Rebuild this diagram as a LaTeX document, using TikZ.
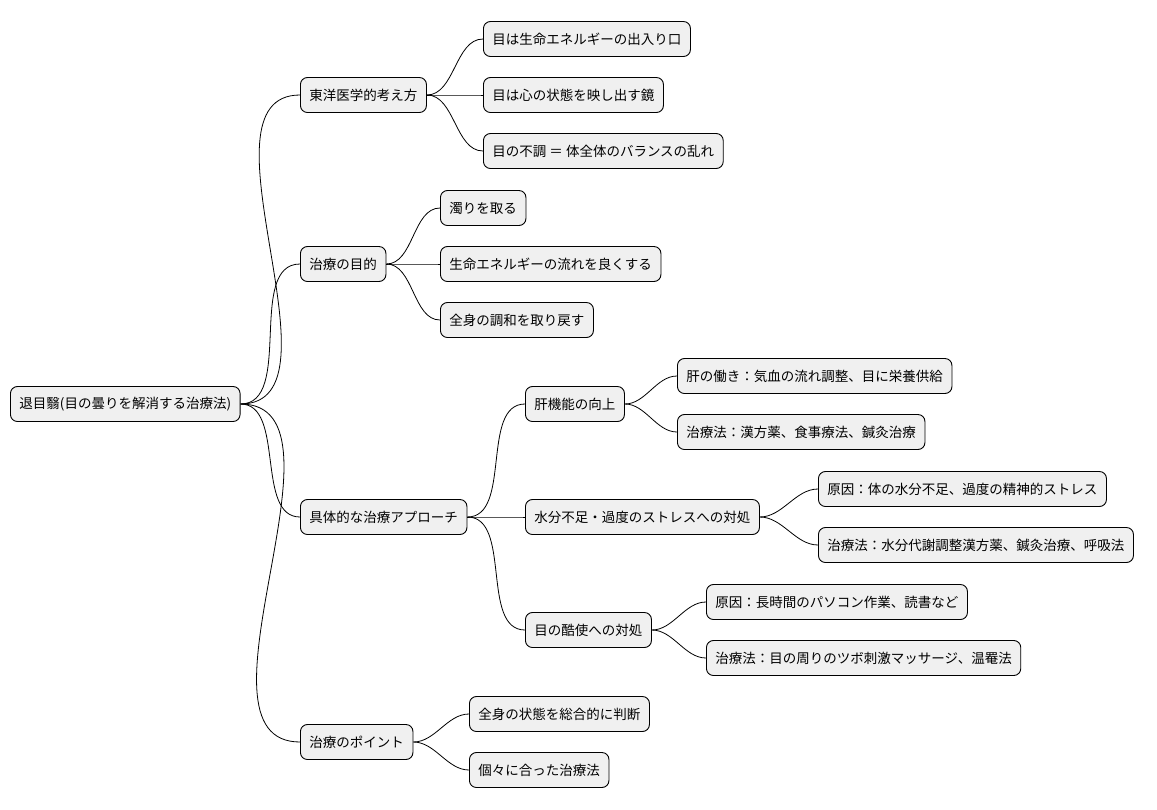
\documentclass[tikz,border=0pt]{standalone}
\usepackage{fontspec}
\setmainfont{Noto Sans CJK JP}
\usepackage{tikz}
\tikzset{
  topic/.style={draw=black, fill=black!6, rounded corners=7pt, line width=0.9pt,
    anchor=west, minimum height=35pt, inner xsep=9pt, inner ysep=0pt,
    font=\fontsize{13.5}{15}\selectfont},
  branch/.style={line width=0.8pt, out=0, in=180, looseness=0.9}
}
\begin{document}
\begin{tikzpicture}[x=1pt, y=-1pt]
    \useasboundingbox (0,0) rectangle (1157,809);
    % root
    \node[topic] (root) at (10,404) {退目翳(目の曇りを解消する治療法)};
    % first level
    \node[topic] (east) at (300,95) {東洋医学的考え方};
    \node[topic] (goal) at (300,264) {治療の目的};
    \node[topic] (appr) at (300,517) {具体的な治療アプローチ};
    \node[topic] (pts) at (300,742) {治療のポイント};
    % east
    \node[topic] (east_a) at (483,39) {目は生命エネルギーの出入り口};
    \node[topic] (east_b) at (483,95) {目は心の状態を映し出す鏡};
    \node[topic] (east_c) at (483,151) {目の不調 ＝ 体全体のバランスの乱れ};
    % goal
    \node[topic] (goal_a) at (440,208) {濁りを取る};
    \node[topic] (goal_b) at (440,264) {生命エネルギーの流れを良くする};
    \node[topic] (goal_c) at (440,320) {全身の調和を取り戻す};
    % approach
    \node[topic] (liver) at (525,404) {肝機能の向上};
    \node[topic] (water) at (525,517) {水分不足・過度のストレスへの対処};
    \node[topic] (strain) at (525,630) {目の酷使への対処};
    \node[topic] (liver_a) at (677,376) {肝の働き：気血の流れ調整、目に栄養供給};
    \node[topic] (liver_b) at (677,432) {治療法：漢方薬、食事療法、鍼灸治療};
    \node[topic] (water_a) at (818,489) {原因：体の水分不足、過度の精神的ストレス};
    \node[topic] (water_b) at (818,545) {治療法：水分代謝調整漢方薬、鍼灸治療、呼吸法};
    \node[topic] (strain_a) at (706,602) {原因：長時間のパソコン作業、読書など};
    \node[topic] (strain_b) at (706,658) {治療法：目の周りのツボ刺激マッサージ、温罨法};
    % points
    \node[topic] (pts_a) at (469,714) {全身の状態を総合的に判断};
    \node[topic] (pts_b) at (469,770) {個々に合った治療法};
    % connectors
    \foreach \a/\b in {root/east, root/goal, root/appr, root/pts,
        east/east_a, east/east_b, east/east_c,
        goal/goal_a, goal/goal_b, goal/goal_c,
        appr/liver, appr/water, appr/strain,
        liver/liver_a, liver/liver_b, water/water_a, water/water_b,
        strain/strain_a, strain/strain_b, pts/pts_a, pts/pts_b}
      \draw[branch] (\a.east) to (\b.west);
\end{tikzpicture}
\end{document}
